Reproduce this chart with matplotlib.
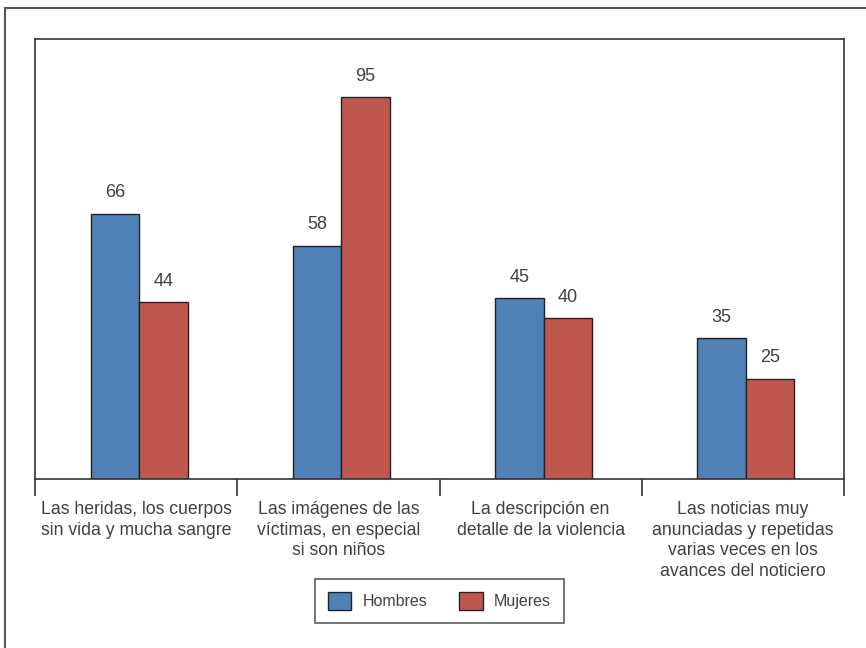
import matplotlib
matplotlib.use("Agg")
from matplotlib import pyplot as plt
from matplotlib.lines import Line2D
import numpy as np

AZUL = "#4f81b6"  # Hombres
ROJO = "#c0574f"  # Mujeres
TXT = "#404040"

categorias = [
    "Las heridas, los cuerpos\nsin vida y mucha sangre",
    "Las imágenes de las\nvíctimas, en especial\nsi son niños",
    "La descripción en\ndetalle de la violencia",
    "Las noticias muy\nanunciadas y repetidas\nvarias veces en los\navances del noticiero",
]
hombres = [66, 58, 45, 35]
mujeres = [44, 95, 40, 25]

plt.rcParams['font.family'] = ['Liberation Sans', 'DejaVu Sans']

fig = plt.figure(figsize=(8.66, 6.48), dpi=100)
ax = fig.add_axes([35 / 866, 169 / 648, 809 / 866, 440 / 648])

x = np.arange(len(categorias))
w = 0.24
desp = 0.015  # los grupos estan un poco a la derecha del centro
b1 = ax.bar(x + desp - w / 2, hombres, w, color=AZUL, edgecolor="#222222", linewidth=1, label="Hombres")
b2 = ax.bar(x + desp + w / 2, mujeres, w, color=ROJO, edgecolor="#222222", linewidth=1, label="Mujeres")

for barras in (b1, b2):
    for r in barras:
        ax.annotate(str(int(r.get_height())), (r.get_x() + r.get_width() / 2, r.get_height()),
                    xytext=(0, 9), textcoords="offset points", ha="center", va="bottom",
                    fontsize=13, color=TXT)

ax.set_xlim(-0.5, 3.5)
ax.set_ylim(0, 109.5)
ax.set_yticks([])
ax.set_xticks(x)
ax.set_xticklabels(categorias, fontsize=12.7, color=TXT, linespacing=1.27)
ax.tick_params(axis="x", which="major", length=0, pad=16)
ax.set_xticks(np.arange(-0.5, 4, 1), minor=True)
ax.tick_params(axis="x", which="minor", length=12, width=1.2, color="#333333")
for s in ax.spines.values():
    s.set_color("#333333")
    s.set_linewidth(1.2)

leg = fig.legend(loc="center", bbox_to_anchor=(439.5 / 866, 1 - 601 / 648), ncol=2,
                 fontsize=11.5, frameon=True, fancybox=False, handlelength=1.45, handleheight=1.3,
                 columnspacing=2.0, handletextpad=0.7, borderpad=0.85, borderaxespad=0,
                 labelcolor=TXT)
leg.get_frame().set_edgecolor("#333333")
leg.get_frame().set_linewidth(1.2)

# marco exterior: solo arriba e izquierda
fig.add_artist(Line2D([5 / 866, 1], [1 - 8 / 648, 1 - 8 / 648], color="#555555", lw=1.5))
fig.add_artist(Line2D([5 / 866, 5 / 866], [0, 1 - 8 / 648], color="#555555", lw=1.5))

fig.savefig("out.png", dpi=100)
